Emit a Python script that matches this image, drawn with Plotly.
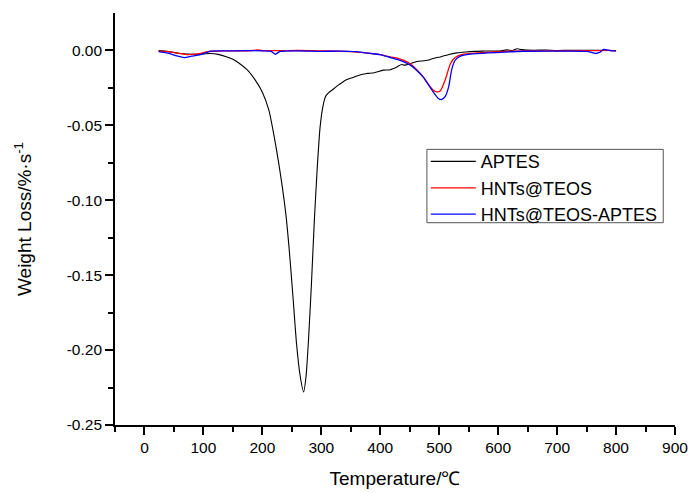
import plotly.graph_objects as go

# ---- data ----
aptes_T = [24, 35, 45, 61, 83, 100, 112, 125, 140, 150, 160, 174, 188, 200, 211, 222, 233, 240,
           246, 252, 258, 264, 270, 274, 278, 283, 288, 293, 298, 303, 307, 312, 318, 330, 341,
           355, 370, 378, 390, 405, 417, 429, 436, 440, 451, 462, 475, 485, 495, 502, 515, 530,
           545, 560, 575, 586, 600, 615, 625, 632, 640, 660, 680, 700, 720, 740, 760, 780, 800]
aptes_v = [-0.0002, -0.0005, -0.0012, -0.0022, -0.0027, -0.0025, -0.0022, -0.0028, -0.0045,
           -0.006, -0.0085, -0.013, -0.020, -0.028, -0.040, -0.062, -0.089, -0.110,
           -0.135, -0.165, -0.196, -0.217, -0.228, -0.218, -0.195, -0.158, -0.115, -0.079,
           -0.051, -0.037, -0.031, -0.0285, -0.0267, -0.023, -0.020, -0.018, -0.016, -0.0155,
           -0.0150, -0.0133, -0.0130, -0.0110, -0.0095, -0.0100, -0.0090, -0.0075, -0.0070,
           -0.0062, -0.0050, -0.0045, -0.0030, -0.0018, -0.0012, -0.0008, -0.0006, -0.0005,
           -0.0006, 0.0002, -0.0002, 0.0010, 0.0004, 0.0000, 0.0001, -0.0002, 0.0000, -0.0001,
           0.0000, -0.0002, -0.0002]

teos_T = [24, 40, 55, 72, 90, 105, 115, 130, 150, 185, 192, 200, 230, 260, 300, 330, 350, 380,
          400, 417, 430, 440, 451, 462, 473, 485, 490, 496, 502, 510, 519, 527, 541, 560, 586,
          615, 643, 680, 720, 760, 790, 800]
teos_v = [-0.0007, -0.0010, -0.0020, -0.0030, -0.0025, -0.0012, -0.0007, -0.0005, -0.0004,
          -0.0002, 0.0002, -0.0003, -0.0003, -0.0002, -0.0005, -0.0006, -0.0010, -0.0020,
          -0.0030, -0.0045, -0.0055, -0.0068, -0.0090, -0.0130, -0.0180, -0.0245, -0.0267,
          -0.0278, -0.0271, -0.0200, -0.0090, -0.0049, -0.0027, -0.0020, -0.0013, -0.0008,
          -0.0004, -0.0005, -0.0004, -0.0003, -0.0002, -0.0004]

aptes2_T = [24, 40, 55, 67, 80, 95, 106, 112, 130, 150, 200, 215, 222, 230, 260, 300, 330, 360,
            380, 400, 417, 435, 451, 462, 473, 490, 498, 504, 510, 516, 521, 527, 536, 553, 586,
            643, 700, 750, 765, 772, 779, 790, 800]
aptes2_v = [-0.0010, -0.0020, -0.0038, -0.0049, -0.0040, -0.0030, -0.0015, -0.0007, -0.0005,
            -0.0004, -0.0004, -0.0008, -0.0027, -0.0008, -0.0004, -0.0008, -0.0006, -0.0010,
            -0.0020, -0.0030, -0.0049, -0.0070, -0.0100, -0.0135, -0.0180, -0.0280, -0.0320,
            -0.0329, -0.0310, -0.0245, -0.0133, -0.0067, -0.0040, -0.0027, -0.0018, -0.0007,
            -0.0006, -0.0008, -0.0022, -0.0015, 0.0005, -0.0003, -0.0005]

series_names = ["APTES", "HNTs@TEOS", "HNTs@TEOS-APTES"]
series_colors = ["#000000", "#ff0000", "#0000ff"]

x_ticks = [0, 100, 200, 300, 400, 500, 600, 700, 800, 900]
y_ticks = [0.0, -0.05, -0.10, -0.15, -0.20, -0.25]
y_ticktext = ["0.00", "-0.05", "-0.10", "-0.15", "-0.20", "-0.25"]

FONT = "Arial, Liberation Sans, sans-serif"

fig = go.Figure()
for (T, v), name, col, w in zip([(aptes_T, aptes_v), (teos_T, teos_v), (aptes2_T, aptes2_v)],
                                series_names, series_colors, [1.1, 1.3, 1.3]):
    fig.add_trace(go.Scatter(x=T, y=v, mode="lines", name=name,
                             line=dict(color=col, width=w, shape="spline", smoothing=0.6)))

axis_common = dict(showline=True, linecolor="black", linewidth=1.7, ticks="outside",
                   ticklen=8, tickwidth=1.5, tickcolor="black", showgrid=False, zeroline=False,
                   tickfont=dict(family=FONT, size=15.5, color="black"), mirror=False,
                   automargin=False)

fig.update_xaxes(range=[-50, 900], tickmode="array", tickvals=x_ticks,
                 ticktext=[str(t) for t in x_ticks],
                 minor=dict(tickmode="linear", tick0=0, dtick=50, ticks="outside", ticklen=5,
                            tickwidth=1.5, tickcolor="black"),
                 title=dict(text="Temperature/℃", font=dict(family=FONT, size=19, color="black"),
                            standoff=16),
                 **axis_common)
fig.update_yaxes(range=[-0.25, 0.0248], tickmode="array", tickvals=y_ticks, ticktext=y_ticktext,
                 minor=dict(tickmode="linear", tick0=0, dtick=0.025, ticks="outside", ticklen=5,
                            tickwidth=1.5, tickcolor="black"),
                 title=dict(text="Weight Loss/%·s<sup>-1</sup>",
                            font=dict(family=FONT, size=19, color="black"), standoff=30),
                 **axis_common)

# legend frame
fig.add_shape(type="rect", xref="paper", yref="paper", x0=0.557, x1=0.979, y0=0.491, y1=0.669,
              line=dict(color="#555555", width=1), fillcolor="white", layer="above")

fig.update_layout(
    width=691, height=493,
    margin=dict(l=115, r=16, t=13, b=68),
    paper_bgcolor="white", plot_bgcolor="white",
    font=dict(family=FONT, color="black"),
    legend=dict(x=0.555, y=0.684, xanchor="left", yanchor="top",
                bgcolor="rgba(0,0,0,0)", borderwidth=0,
                font=dict(family=FONT, size=18, color="black"),
                itemwidth=45, tracegroupgap=0),
)

fig.write_html("out.html")
